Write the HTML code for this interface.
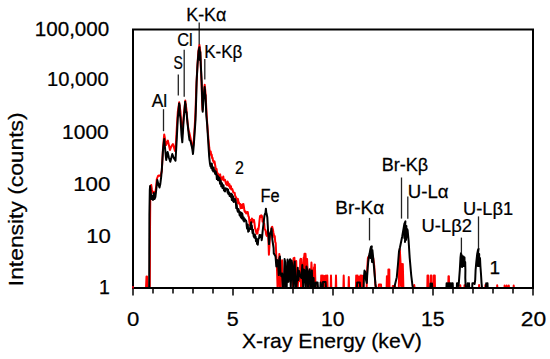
<!DOCTYPE html>
<html><head><meta charset="utf-8"><style>
html,body{margin:0;padding:0;background:#fff;}
body{width:550px;height:359px;overflow:hidden;}
svg{display:block;}
text{font-family:"Liberation Sans",sans-serif;fill:#000;stroke:#000;stroke-width:0.25px;}
</style></head><body>
<svg width="550" height="359" viewBox="0 0 550 359">
<rect width="550" height="359" fill="#fff"/>
<g stroke="#000" stroke-width="1.5"><line x1="133" y1="288" x2="133" y2="295.5"/><line x1="153" y1="288" x2="153" y2="293.4"/><line x1="173" y1="288" x2="173" y2="293.4"/><line x1="193" y1="288" x2="193" y2="293.4"/><line x1="213" y1="288" x2="213" y2="293.4"/><line x1="233" y1="288" x2="233" y2="295.5"/><line x1="253" y1="288" x2="253" y2="293.4"/><line x1="273" y1="288" x2="273" y2="293.4"/><line x1="293" y1="288" x2="293" y2="293.4"/><line x1="313" y1="288" x2="313" y2="293.4"/><line x1="333" y1="288" x2="333" y2="295.5"/><line x1="353" y1="288" x2="353" y2="293.4"/><line x1="373" y1="288" x2="373" y2="293.4"/><line x1="393" y1="288" x2="393" y2="293.4"/><line x1="413" y1="288" x2="413" y2="293.4"/><line x1="433" y1="288" x2="433" y2="295.5"/><line x1="453" y1="288" x2="453" y2="293.4"/><line x1="473" y1="288" x2="473" y2="293.4"/><line x1="493" y1="288" x2="493" y2="293.4"/><line x1="513" y1="288" x2="513" y2="293.4"/><line x1="533" y1="288" x2="533" y2="295.5"/></g>
<polyline fill="none" stroke="#ff0000" stroke-width="2" stroke-linejoin="round" points="133.00,288.0 146.00,288.0 146.50,276.5 147.00,276.5 147.50,288.0 149.80,288.0 150.00,230.0 150.30,195.0 150.70,186.0 151.20,185.0 152.00,190.0 153.00,193.0 154.00,192.0 155.00,194.0 156.00,188.0 156.80,179.0 158.00,176.0 159.00,175.5 160.50,176.0 161.80,171.0 163.00,148.0 164.20,134.5 165.20,140.0 166.00,145.0 167.90,140.6 170.00,150.0 171.50,146.0 172.90,144.0 175.00,151.0 176.00,142.0 176.80,128.0 177.80,112.0 179.20,102.3 180.50,112.0 181.30,125.0 182.30,134.0 183.50,118.0 185.30,100.6 186.50,110.0 187.50,122.0 188.50,130.0 189.50,133.4 190.50,138.0 191.50,143.0 192.30,147.8 193.20,146.0 193.80,140.0 194.80,125.0 195.50,112.0 196.20,90.0 197.30,67.9 198.30,52.0 199.40,44.8 200.30,52.0 200.80,65.0 201.60,85.0 202.20,104.0 202.50,110.0 203.50,96.0 204.70,84.8 205.60,94.0 206.50,112.0 207.30,125.0 208.50,140.0 209.30,148.0 210.20,153.9 210.70,151.5 211.20,155.4 211.70,154.6 212.15,158.0 212.60,157.8 213.05,160.8 213.50,160.8 214.00,162.8 214.50,161.5 215.00,164.3 215.55,167.5 216.10,170.7 216.57,168.9 217.05,172.6 217.53,173.7 218.00,173.6 218.43,175.9 218.87,176.6 219.30,174.9 219.73,175.7 220.17,174.4 220.60,178.9 221.07,179.7 221.55,177.4 222.03,178.8 222.50,179.2 222.90,179.5 223.30,176.6 223.70,180.3 224.10,179.4 224.50,180.1 225.05,179.9 225.60,182.2 226.15,184.1 226.70,184.5 227.13,185.2 227.57,181.6 228.00,182.6 228.50,184.6 229.00,186.3 229.50,184.3 230.00,188.0 230.50,188.7 230.93,186.2 231.37,189.4 231.80,188.9 232.30,189.0 232.80,190.5 233.30,192.6 233.75,192.4 234.20,193.0 234.65,192.7 235.10,195.7 235.63,196.3 236.17,198.7 236.70,199.7 237.12,198.6 237.55,203.1 237.97,198.9 238.40,202.0 238.93,202.4 239.47,204.3 240.00,203.7 240.60,208.3 241.20,206.3 241.70,204.7 242.20,208.1 242.60,204.3 243.00,206.0 243.40,203.9 243.95,207.1 244.50,211.1 245.05,212.0 245.60,211.5 246.15,213.5 246.70,212.3 247.25,212.1 247.80,212.1 248.35,215.9 248.90,216.9 249.45,222.2 250.00,225.3 250.50,222.2 251.00,219.7 251.43,223.1 251.87,218.5 252.30,219.5 252.85,221.7 253.40,221.6 253.95,219.9 254.50,223.5 255.05,228.6 255.60,229.3 256.15,232.2 256.70,233.6 257.10,231.9 257.50,233.6 257.95,228.5 258.40,229.9 258.95,226.0 259.50,220.5 260.05,215.9 260.60,217.2 261.15,215.3 261.70,215.6 262.12,216.5 262.55,221.6 262.97,220.3 263.40,220.5 263.80,223.6 264.20,223.7 264.60,228.6 265.00,229.7 265.60,230.3 266.20,234.6 266.75,235.9 267.30,232.4 268.00,231.2 268.45,240.4 268.90,254.7 269.35,247.7 269.80,238.6 270.23,235.7 270.67,232.1 271.10,233.7 271.65,227.4 272.20,226.8 272.90,229.4 273.37,232.5 273.83,234.4 274.30,237.4 274.77,236.2 275.23,242.1 275.70,242.9 276.20,254.1 276.89,265.9 277.58,288.0 278.55,275.8 279.33,253.9 279.87,288.0 280.71,288.0 281.24,272.4 282.09,260.2 282.65,276.8 283.58,276.3 284.47,288.0 285.15,279.7 286.07,277.9 286.98,275.3 287.68,275.1 288.24,281.4 289.16,271.6 290.01,272.6 290.92,260.5 291.46,273.3 292.08,273.7 292.89,288.0 293.53,258.3 294.36,257.7 295.29,273.1 296.21,261.0 296.83,278.8 297.77,288.0 298.46,271.5 299.05,279.4 299.96,281.2 300.20,260.0 300.61,258.9 301.00,288.0 301.25,259.0 302.06,271.1 302.96,288.0 303.69,257.7 303.80,260.0 304.50,253.7 304.61,262.1 305.39,278.9 305.50,253.7 305.93,261.1 306.00,270.0 306.46,288.0 307.00,259.5 307.09,259.1 307.90,276.9 308.00,288.0 308.72,288.0 309.68,288.0 310.29,271.0 310.82,278.5 311.43,262.6 312.27,277.4 313.13,279.9 314.06,267.2 314.20,288.0 314.60,264.5 314.91,264.7 315.30,279.8 315.80,288.0 320.90,288.0 321.20,275.4 321.50,288.0 322.50,288.0 322.80,275.4 323.10,288.0 324.10,288.0 324.40,276.0 324.70,288.0 325.70,288.0 326.00,275.4 326.30,288.0 327.00,288.0 327.30,275.4 327.60,288.0 330.70,288.0 331.00,275.4 331.30,288.0 335.70,288.0 336.00,275.4 336.30,288.0 343.40,288.0 343.70,275.4 344.00,288.0 348.50,288.0 348.80,277.0 349.10,288.0 355.90,288.0 356.20,275.4 356.50,288.0 357.30,288.0 357.60,275.4 357.90,288.0 358.70,288.0 359.00,277.0 359.30,288.0 360.10,288.0 360.40,275.4 360.70,288.0 361.50,288.0 361.80,275.4 362.10,288.0 362.70,288.0 363.00,276.0 363.30,288.0 364.00,288.0 366.60,288.0 367.30,268.0 367.90,258.0 369.00,256.0 370.50,254.0 372.00,255.0 373.20,258.0 374.30,266.5 374.90,276.0 375.40,285.8 376.00,288.0 378.70,288.0 378.90,284.6 381.00,284.6 381.20,288.0 386.60,288.0 386.90,276.3 387.30,288.0 388.20,288.0 388.40,269.5 389.30,269.5 389.50,288.0 392.60,288.0 392.80,286.0 395.00,286.0 395.50,288.0 398.80,288.0 399.30,262.0 399.80,249.0 400.50,262.0 401.00,286.0 401.60,264.0 402.20,286.0 402.80,264.0 403.40,288.0 414.00,288.0 414.20,285.0 414.60,288.0 427.30,288.0 427.50,275.6 428.20,275.6 428.40,288.0 430.60,288.0 430.80,275.6 431.40,275.6 431.60,288.0 433.60,288.0 433.80,275.6 434.80,275.6 435.00,288.0 448.20,288.0 448.50,276.2 448.90,276.2 449.10,288.0 460.20,288.0 460.30,285.3 460.50,288.0 464.40,288.0 464.50,285.3 464.70,288.0 479.00,288.0 479.10,285.0 479.30,288.0 485.30,288.0 485.40,285.0 485.60,288.0 497.10,288.0 497.20,285.3 497.40,288.0 504.50,288.0 504.60,285.5 504.80,288.0 506.60,288.0 506.70,285.5 506.90,288.0 508.70,288.0 508.80,285.5 509.00,288.0 513.60,288.0 513.70,285.5 513.90,288.0 533.00,288.0"/>
<polyline fill="none" stroke="#000" stroke-width="2" stroke-linejoin="round" points="149.20,288.0 149.40,215.0 149.80,190.0 150.10,186.0 150.60,190.0 151.40,199.0 152.20,196.0 153.00,200.0 153.80,193.0 154.60,199.0 155.40,197.0 156.20,190.0 157.30,180.0 158.40,184.5 159.50,187.5 160.30,184.0 161.20,176.7 161.80,170.0 163.00,150.0 164.20,139.0 165.20,150.0 166.20,160.0 167.60,152.0 169.00,158.0 170.30,161.8 172.30,154.0 173.80,158.0 175.50,160.7 176.70,140.0 177.80,118.0 179.20,103.4 178.70,112.0 179.60,105.0 179.80,114.0 180.50,118.0 181.50,135.0 182.30,142.3 183.50,122.0 185.20,101.7 184.80,110.0 185.60,104.0 185.90,112.0 186.50,112.0 187.20,120.0 188.80,135.0 189.50,140.0 190.50,141.0 192.20,148.3 193.00,154.0 193.80,145.0 195.50,120.0 196.30,95.0 196.60,82.0 197.50,65.0 198.60,51.0 199.50,47.2 198.80,58.0 199.60,49.0 199.90,60.0 200.30,52.0 200.80,65.0 201.70,82.0 202.20,100.0 202.70,111.7 203.50,100.0 204.60,87.0 204.20,96.0 204.90,89.0 205.20,98.0 205.50,95.0 206.30,115.0 207.20,125.0 208.00,138.0 208.50,146.0 209.20,156.7 209.60,160.5 210.00,163.8 210.50,166.2 211.00,166.4 211.38,168.2 211.75,163.4 212.12,166.7 212.50,170.2 212.88,169.1 213.25,171.4 213.62,167.4 214.00,170.3 214.50,170.2 215.00,173.3 215.38,174.2 215.75,171.6 216.12,173.6 216.50,174.7 216.88,179.1 217.26,178.8 217.64,175.8 218.02,180.2 218.40,176.8 218.80,180.3 219.20,178.0 219.60,177.9 220.00,183.7 220.43,180.4 220.85,181.0 221.27,186.3 221.70,186.2 222.06,183.3 222.42,188.0 222.78,186.0 223.14,187.5 223.50,185.2 223.88,190.1 224.25,189.1 224.62,191.3 225.00,191.4 225.40,188.3 225.80,189.2 226.20,188.5 226.57,188.8 226.93,188.7 227.30,190.5 227.67,192.7 228.03,189.4 228.40,193.9 228.80,192.3 229.20,192.5 229.60,196.0 230.00,194.4 230.36,193.9 230.72,195.4 231.08,197.2 231.44,193.8 231.80,199.9 232.18,194.8 232.55,199.7 232.93,200.9 233.30,196.6 233.73,201.9 234.15,199.9 234.57,201.8 235.00,199.1 235.43,200.4 235.85,202.3 236.27,208.1 236.70,204.7 237.12,208.9 237.55,210.8 237.97,211.8 238.40,209.1 238.80,210.3 239.20,212.4 239.60,215.0 240.00,212.1 240.37,216.2 240.73,216.8 241.10,217.4 241.47,212.7 241.83,218.4 242.20,213.5 242.58,215.6 242.97,217.8 243.35,220.3 243.73,217.4 244.12,221.5 244.50,219.8 244.88,219.2 245.25,220.2 245.62,220.2 246.00,220.5 246.36,221.8 246.72,225.9 247.08,228.6 247.44,224.4 247.80,224.6 248.17,231.7 248.53,230.5 248.90,231.2 249.27,228.6 249.63,229.2 250.00,229.0 250.37,226.1 250.73,225.2 251.10,222.3 251.47,229.2 251.83,225.5 252.20,230.0 252.60,233.0 253.00,229.7 253.40,234.3 253.77,236.6 254.13,235.7 254.50,237.7 254.87,234.4 255.23,237.2 255.60,236.3 255.97,241.2 256.33,238.6 256.70,240.2 257.07,243.9 257.43,243.5 257.80,244.7 258.23,239.8 258.65,238.4 259.07,238.2 259.50,235.0 260.00,235.0 260.50,236.9 260.90,235.3 261.30,236.6 261.70,240.2 262.13,237.0 262.57,231.9 263.00,228.0 263.50,223.9 264.00,219.2 264.50,215.5 265.00,213.7 265.45,213.0 265.90,208.7 266.25,212.5 266.60,213.6 267.30,217.3 267.75,225.0 268.20,233.6 268.60,236.6 269.00,244.1 269.50,237.1 270.00,233.9 270.70,232.2 271.07,231.4 271.43,228.6 271.80,232.2 272.30,239.3 273.00,244.0 273.60,248.0 273.80,253.4 274.74,254.9 275.53,256.5 276.34,266.5 277.00,259.9 277.84,260.9 278.80,275.1 279.39,258.2 279.94,256.5 280.48,272.2 281.39,276.3 282.14,273.5 282.79,288.0 283.76,288.0 284.60,259.1 285.26,262.4 285.96,288.0 286.66,288.0 287.57,259.6 288.50,281.8 289.21,262.4 290.08,259.3 290.76,288.0 291.62,260.6 292.19,264.0 292.80,274.4 293.41,288.0 293.99,269.8 294.71,261.4 295.67,288.0 296.33,288.0 296.95,280.8 297.77,267.8 298.39,279.9 299.06,271.1 299.62,273.4 300.42,276.3 301.38,278.0 302.29,265.1 303.23,288.0 303.86,269.4 304.81,271.1 305.73,288.0 306.45,266.5 307.41,270.9 308.05,288.0 308.84,275.4 309.69,269.2 310.47,288.0 311.27,283.3 311.88,270.6 312.50,288.0 313.00,278.0 313.60,278.0 314.00,288.0 315.40,288.0 315.80,282.4 317.60,282.4 318.00,288.0 320.40,288.0 320.60,282.4 321.60,288.0 322.80,288.0 323.00,282.0 325.60,282.0 326.00,288.0 340.00,288.0 340.00,288.0 356.80,288.0 357.20,282.4 359.80,282.4 360.20,288.0 363.60,288.0 364.00,276.0 364.50,270.6 365.20,272.0 366.00,280.0 366.80,283.0 367.40,272.0 368.20,262.0 369.00,256.0 369.60,253.6 370.40,249.0 371.10,246.6 371.80,246.3 370.60,258.0 371.50,250.0 372.00,262.0 372.40,250.0 373.20,258.0 373.80,265.0 374.30,270.8 374.90,278.0 375.40,283.7 376.00,288.0 394.20,288.0 394.70,285.8 396.80,277.2 398.00,264.0 399.00,251.5 400.00,247.2 402.20,236.5 404.40,223.6 405.40,221.4 404.30,238.0 405.40,225.0 405.00,242.0 406.40,226.0 406.00,240.0 407.20,229.0 407.60,230.0 408.60,240.8 409.70,257.9 411.20,275.1 412.50,285.8 413.00,288.0 430.30,288.0 430.50,283.5 431.20,286.5 431.90,283.5 432.00,283.5 432.20,288.0 446.40,288.0 446.60,283.3 447.30,286.5 448.00,283.3 448.70,286.5 449.40,283.3 450.10,286.5 450.80,283.3 451.50,286.5 452.20,283.3 452.70,283.3 452.90,288.0 456.80,288.0 457.00,283.3 458.30,283.3 458.60,286.0 459.20,278.0 459.80,270.0 460.50,257.5 461.00,253.2 461.60,255.0 460.90,266.0 462.20,256.0 462.00,267.0 463.40,256.5 463.20,266.0 464.50,257.5 464.60,266.0 465.20,262.0 465.40,270.0 465.30,278.0 465.60,286.0 466.20,288.0 467.50,288.0 467.70,283.3 468.40,286.5 469.00,283.3 469.20,288.0 472.20,288.0 472.40,283.3 474.00,283.3 474.60,284.0 475.20,280.0 475.60,270.0 476.30,262.0 477.20,254.0 478.00,250.0 478.60,248.8 476.80,262.0 478.20,252.0 477.80,266.0 479.20,254.0 479.00,266.0 480.00,258.0 480.40,266.0 481.00,274.0 481.50,282.6 482.00,288.0 486.00,288.0 486.20,283.3 486.90,286.5 487.50,283.3 487.70,288.0 533.00,288.0"/>
<g stroke="#222" stroke-width="1.3"><line x1="163.5" y1="109.2" x2="163.5" y2="131.2"/><line x1="178.3" y1="74.4" x2="178.3" y2="95.6"/><line x1="184.2" y1="49.8" x2="184.2" y2="96.7"/><line x1="199.2" y1="22.5" x2="199.2" y2="44.5"/><line x1="204.8" y1="59" x2="204.8" y2="79.4"/><line x1="369.5" y1="217.9" x2="369.5" y2="240.4"/><line x1="401.5" y1="177.5" x2="401.5" y2="218.6"/><line x1="407.8" y1="196.6" x2="407.8" y2="218.8"/><line x1="461.4" y1="237.6" x2="461.4" y2="253.2"/><line x1="478.5" y1="216.4" x2="478.5" y2="248.4"/></g>
<rect x="133" y="29.5" width="400" height="258.5" fill="none" stroke="#000" stroke-width="2"/>
<rect x="132" y="286" width="2" height="2.5" fill="#c00010"/>
<g><text x="0" y="0" font-size="19.5" text-anchor="middle" transform="translate(72.0,35.7) scale(1.0563,1)">100,000</text><text x="0" y="0" font-size="19.5" text-anchor="middle" transform="translate(77.9,86.1) scale(1.033,1)">10,000</text><text x="0" y="0" font-size="19.5" text-anchor="middle" transform="translate(85.4,138.7) scale(1.0755,1)">1000</text><text x="0" y="0" font-size="19.5" text-anchor="middle" transform="translate(91.75,191.2) scale(1.1413,1)">100</text><text x="0" y="0" font-size="19.5" text-anchor="middle" transform="translate(98.45,243.2) scale(1.137,1)">10</text><text x="0" y="0" font-size="19.5" text-anchor="middle" transform="translate(104.35,294.45) scale(1.0,1)">1</text><text x="0" y="0" font-size="19.5" text-anchor="middle" transform="translate(133.25,326.3) scale(1.1356,1)">0</text><text x="0" y="0" font-size="19.5" text-anchor="middle" transform="translate(232.8,325.9) scale(1.1014,1)">5</text><text x="0" y="0" font-size="19.5" text-anchor="middle" transform="translate(332.75,326.3) scale(1.0861,1)">10</text><text x="0" y="0" font-size="19.5" text-anchor="middle" transform="translate(432.85,326.3) scale(1.0905,1)">15</text><text x="0" y="0" font-size="19.5" text-anchor="middle" transform="translate(533.4,326.3) scale(1.172,1)">20</text><text x="0" y="0" font-size="20.5" text-anchor="middle" transform="translate(331.9,348.0) scale(1.0336,1)">X-ray Energy (keV)</text><text x="0" y="0" font-size="20.5" text-anchor="middle" transform="translate(23.35,199.3) rotate(-90) scale(1.1139,1)">Intensity (counts)</text><text x="0" y="0" font-size="19" text-anchor="middle" transform="translate(206.3,21.05) scale(0.9411,1)">K-K&#945;</text><text x="0" y="0" font-size="19" text-anchor="middle" transform="translate(185.0,46.3) scale(0.8574,1)">Cl</text><text x="0" y="0" font-size="19" text-anchor="middle" transform="translate(178.25,68.75) scale(0.736,1)">S</text><text x="0" y="0" font-size="19" text-anchor="middle" transform="translate(223.3,57.8) scale(0.8983,1)">K-K&#946;</text><text x="0" y="0" font-size="19" text-anchor="middle" transform="translate(159.4,107.15) scale(0.9152,1)">Al</text><text x="0" y="0" font-size="19" text-anchor="middle" transform="translate(239.4,173.55) scale(0.8411,1)">2</text><text x="0" y="0" font-size="19" text-anchor="middle" transform="translate(270.1,202.1) scale(0.8619,1)">Fe</text><text x="0" y="0" font-size="19" text-anchor="middle" transform="translate(359.75,214.3) scale(0.9985,1)">Br-K&#945;</text><text x="0" y="0" font-size="19" text-anchor="middle" transform="translate(404.9,170.9) scale(0.95,1)">Br-K&#946;</text><text x="0" y="0" font-size="19" text-anchor="middle" transform="translate(428.2,197.65) scale(0.9811,1)">U-L&#945;</text><text x="0" y="0" font-size="19" text-anchor="middle" transform="translate(446.75,232.3) scale(0.9664,1)">U-L&#946;2</text><text x="0" y="0" font-size="19" text-anchor="middle" transform="translate(488.15,215.3) scale(0.9629,1)">U-L&#946;1</text><text x="0" y="0" font-size="19" text-anchor="middle" transform="translate(494.9,273.85) scale(1.0,1)">1</text></g>
</svg>
</body></html>
